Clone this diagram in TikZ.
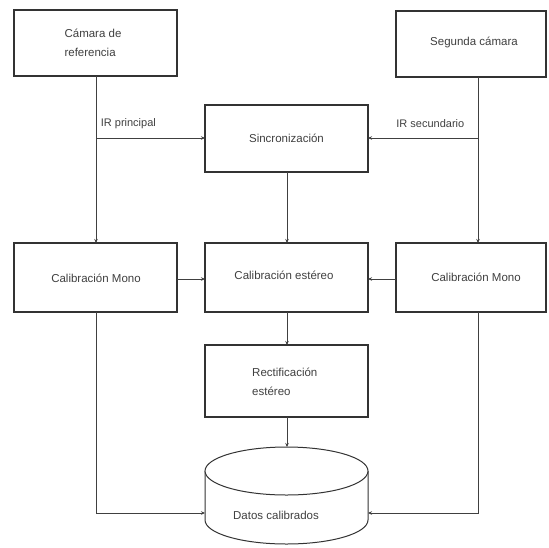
\documentclass[tikz,border=0pt]{standalone}
\usepackage{fontspec}
\setmainfont{Liberation Sans}
\usetikzlibrary{arrows.meta}
\begin{document}
\begin{tikzpicture}[x=1pt,y=-1pt,
  box/.style={draw=black!80,line width=1.4pt,fill=white},
  lbl/.style={text=black!75,font=\fontsize{11.5}{19}\selectfont,inner sep=0pt},
  slbl/.style={text=black!75,font=\fontsize{11}{13}\selectfont,inner sep=0pt},
  conn/.style={draw=black!75,line width=1pt,-{Stealth[length=4pt,width=3.5pt]}},
  plain/.style={draw=black!75,line width=1pt}]
\useasboundingbox (0,0) rectangle (549,547);
% boxes
\draw[box] (14,10) rectangle (177,76);
\node[lbl,align=left] (t1) at (93,43) {Cámara de\\referencia};
\draw[box] (396,11) rectangle (546,77);
\node[lbl] (t2) at (474,42) {Segunda cámara};
\draw[box] (205,105) rectangle (368,172);
\node[lbl] (t3) at (286.5,138) {Sincronización};
\draw[box] (14,243) rectangle (177,312);
\node[lbl] (t4) at (96,278) {Calibración Mono};
\draw[box] (205,243) rectangle (368,312);
\node[lbl] (t5) at (284,275) {Calibración estéreo};
\draw[box] (396,243) rectangle (546,312);
\node[lbl] (t6) at (476,277) {Calibración Mono};
\draw[box] (205,345) rectangle (368,417);
\node[lbl,align=left,anchor=west] (t7) at (252,382) {Rectificación\\estéreo};
% cylinder
\draw[black!80,line width=1pt,fill=white] (205,471) -- (205,520) arc[start angle=180,end angle=360,x radius=81.5,y radius=-24] -- (368,471);
\draw[black!80,line width=1pt,fill=white] (286.5,471) ellipse[x radius=81.5,y radius=24];
\node[lbl] (t8) at (276,515) {Datos calibrados};
% named points
\coordinate (a1) at (96,76);
\coordinate (a2) at (96,138);
\coordinate (a3) at (96,243);
\coordinate (s1) at (205,138);
\coordinate (b1) at (478,77);
\coordinate (b2) at (478,138);
\coordinate (b3) at (478,243);
\coordinate (s2) at (368,138);
\coordinate (s3) at (287,172);
\coordinate (e1) at (287,243);
\coordinate (m1) at (177,279);
\coordinate (e2) at (205,279);
\coordinate (m2) at (396,279);
\coordinate (e3) at (368,279);
\coordinate (e4) at (287,312);
\coordinate (r1) at (287,345);
\coordinate (r2) at (287,417);
\coordinate (c1) at (287,447);
\coordinate (l1) at (96,312);
\coordinate (l2) at (96,513);
\coordinate (c2) at (205,513);
\coordinate (q1) at (478,312);
\coordinate (q2) at (478,513);
\coordinate (c3) at (368,513);
% connectors
\draw[conn] (a1) -- (a3);
\draw[conn] (a2) -- node[slbl,pos=0.04,anchor=south west,yshift=9pt] {IR principal} (s1);
\draw[conn] (b2) -- node[slbl,pos=0.12,anchor=south east,yshift=10pt] {IR secundario} (s2);
\draw[conn] (b1) -- (b3);
\draw[conn] (s3) -- (e1);
\draw[conn] (m1) -- (e2);
\draw[conn] (m2) -- (e3);
\draw[conn] (e4) -- (r1);
\draw[conn] (r2) -- (c1);
\draw[conn] (l1) -- (l2) -- (c2);
\draw[conn] (q1) -- (q2) -- (c3);
\end{tikzpicture}
\end{document}
